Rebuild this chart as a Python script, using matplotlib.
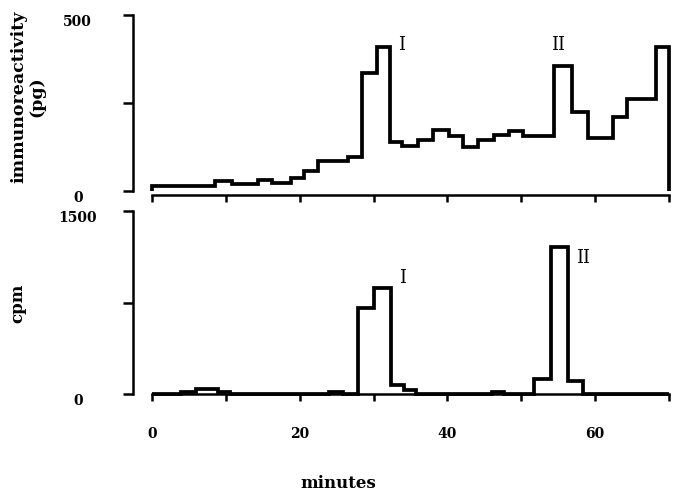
import numpy as np
import matplotlib.pyplot as plt
from matplotlib.transforms import ScaledTranslation

plt.rcParams['font.family'] = 'DejaVu Serif'
plt.rcParams['font.weight'] = 'bold'

# top trace: immunoreactivity (pg) per fraction
top_edges = [0, 8.5, 10.8, 14.4, 16.3, 18.8, 20.6, 22.5, 26.6, 28.5, 30.4, 32.2,
             33.8, 36.0, 38.1, 40.2, 42.1, 44.2, 46.3, 48.3, 50.2, 54.4, 56.8,
             59.0, 62.4, 64.3, 68.3, 70]
top_vals = [14, 27, 21, 30, 22, 38, 56, 84, 96, 334, 408, 139,
            127, 146, 174, 155, 124, 146, 158, 171, 156, 356, 224,
            151, 209, 261, 408]

# bottom trace: cpm per fraction
bot_edges = [0, 3.9, 6.0, 9.0, 10.6, 24.0, 25.8, 27.9, 30.0, 32.4, 34.1, 35.8,
             46.0, 47.7, 51.7, 54.0, 56.3, 58.3, 70]
bot_vals = [0, 15, 40, 15, 0, 18, 0, 705, 865, 70, 32, 0,
            18, 0, 120, 1205, 110, 0]

x_ticks = [0, 10, 20, 30, 40, 50, 60, 70]
x_labels = ['0', '', '20', '', '40', '', '60', '']

fig = plt.figure(figsize=(6.73, 4.90), dpi=100)
W, H = 673, 490
ax1 = fig.add_axes([152 / W, 1 - 191 / H, 517 / W, 176 / H])
ax2 = fig.add_axes([152 / W, 1 - 394 / H, 517 / W, 183 / H])

for ax in (ax1, ax2):
    ax.spines['top'].set_visible(False)
    ax.spines['right'].set_visible(False)
    ax.spines['left'].set_position(('outward', 14))
    for s in ('left', 'bottom'):
        ax.spines[s].set_linewidth(1.8)
    ax.set_xlim(0, 70)
    ax.set_xticks(x_ticks)
    ax.tick_params(axis='x', direction='out', length=5, width=1.8, pad=19, labelsize=10)
    ax.tick_params(axis='y', direction='out', length=7.5, width=1.8, pad=32, labelsize=10)

ax1.spines['bottom'].set_position(('outward', 3))

ax1.stairs(top_vals, top_edges, baseline=0, color='black', lw=2.7, clip_on=False)
ax1.set_ylim(0, 500)
ax1.set_yticks([0, 250, 500])
ax1.set_yticklabels(['0', '', '500'], ha='center')
ax1.set_xticklabels([])
ax1.text(33.8, 415, 'I', fontsize=13, fontweight='normal', ha='center', va='center')
ax1.text(55.0, 415, 'II', fontsize=13, fontweight='normal', ha='center', va='center')

ax2.stairs(bot_vals, bot_edges, baseline=0, color='black', lw=2.7, clip_on=False)
ax2.set_ylim(0, 1500)
ax2.set_yticks([0, 750, 1500])
ax2.set_yticklabels(['0', '', '1500'], ha='center')
ax2.set_xticklabels(x_labels)
ax2.text(33.9, 950, 'I', fontsize=13, fontweight='normal', ha='center', va='center')
ax2.text(58.4, 1115, 'II', fontsize=13, fontweight='normal', ha='center', va='center')

# y tick labels sit a little below their ticks in the original
shift = ScaledTranslation(0, -5 / 100, fig.dpi_scale_trans)
for ax in (ax1, ax2):
    for lab in ax.get_yticklabels():
        lab.set_transform(lab.get_transform() + shift)

fig.text(28 / W, 1 - 97 / H, 'immunoreactivity\n(pg)', rotation=90,
         ha='center', va='center', fontsize=12.5, linespacing=1.05)
fig.text(18 / W, 1 - 303 / H, 'cpm', rotation=90, ha='center', va='center', fontsize=12)
fig.text(338 / W, 1 - 483 / H, 'minutes', ha='center', va='center', fontsize=12)

fig.savefig('out.png', dpi=100)
